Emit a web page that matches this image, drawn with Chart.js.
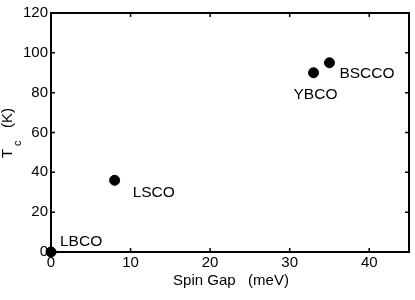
<!DOCTYPE html>
<html lang="en">
<head>
<meta charset="UTF-8">
<title>Tc vs Spin Gap</title>
<script src="https://cdn.jsdelivr.net/npm/chart.js@4.4.0/dist/chart.umd.min.js"></script>
<style>
    html, body { margin: 0; padding: 0; background: #fff; }
    #wrap { width: 415px; height: 300px; }
</style>
</head>
<body>
<div id="wrap"><canvas id="chart" width="415" height="300"></canvas></div>
<script>
// data
const materials = ['LBCO', 'LSCO', 'YBCO', 'BSCCO'];
const spinGap = [0, 8, 33, 35];       // meV
const tc = [0, 36, 90, 95];           // K
const xTicks = [0, 10, 20, 30, 40];
const yTicks = [0, 20, 40, 60, 80, 100, 120];

// label offsets (px) relative to each point
const labelOffsets = [[9, -10], [18, 12], [-20, 22], [10, 11]];

const FONT = '"Liberation Sans", Arial, Helvetica, sans-serif';

const framePlugin = {
    id: 'frame',
    afterDraw(chart) {
        const ctx = chart.ctx;
        const a = chart.chartArea;
        const xs = chart.scales.x, ys = chart.scales.y;
        ctx.save();
        ctx.strokeStyle = '#000';
        ctx.lineWidth = 2;
        ctx.strokeRect(a.left, a.top, a.right - a.left, a.bottom - a.top);

        // inward ticks on all four sides
        const tl = 4;
        ctx.lineWidth = 1.5;
        ctx.beginPath();
        xTicks.forEach(v => {
            const px = xs.getPixelForValue(v);
            ctx.moveTo(px, a.bottom); ctx.lineTo(px, a.bottom - tl);
            ctx.moveTo(px, a.top); ctx.lineTo(px, a.top + tl);
        });
        yTicks.forEach(v => {
            const py = ys.getPixelForValue(v);
            ctx.moveTo(a.left, py); ctx.lineTo(a.left + tl, py);
            ctx.moveTo(a.right, py); ctx.lineTo(a.right - tl, py);
        });
        ctx.stroke();

        // point labels
        ctx.fillStyle = '#000';
        ctx.font = '15.5px ' + FONT;
        ctx.textBaseline = 'middle';
        ctx.textAlign = 'left';
        materials.forEach((m, i) => {
            const px = xs.getPixelForValue(spinGap[i]);
            const py = ys.getPixelForValue(tc[i]);
            ctx.fillText(m, px + labelOffsets[i][0], py + labelOffsets[i][1]);
        });

        // x axis title
        ctx.textAlign = 'center';
        ctx.font = '15px ' + FONT;
        ctx.fillText('Spin Gap   (meV)', 231, 281);

        // y axis title with subscript
        ctx.translate(12, 158);
        ctx.rotate(-Math.PI / 2);
        ctx.textAlign = 'left';
        ctx.textBaseline = 'alphabetic';
        ctx.font = '15px ' + FONT;
        ctx.fillText('T', 0, 0);
        ctx.font = '11px ' + FONT;
        ctx.fillText('c', 12, 9);
        ctx.font = '15px ' + FONT;
        ctx.fillText('(K)', 30, 0);
        ctx.restore();
    }
};

new Chart(document.getElementById('chart'), {
    type: 'scatter',
    data: {
        datasets: [{
            data: spinGap.map((x, i) => ({ x: x, y: tc[i] })),
            backgroundColor: '#000',
            borderColor: '#000',
            pointRadius: 5,
            pointHoverRadius: 5,
            clip: false
        }]
    },
    options: {
        responsive: false,
        animation: false,
        layout: { padding: { left: 0, top: 13, right: 4, bottom: 0 } },
        plugins: { legend: { display: false }, tooltip: { enabled: false } },
        scales: {
            x: {
                type: 'linear',
                min: 0, max: 45,
                afterBuildTicks: s => { s.ticks = xTicks.map(v => ({ value: v })); },
                afterFit: s => { s.height = 48; },
                grid: { display: false, drawTicks: false },
                border: { display: false },
                ticks: { color: '#000', padding: 2, font: { family: FONT, size: 15 } }
            },
            y: {
                type: 'linear',
                min: 0, max: 120,
                afterBuildTicks: s => { s.ticks = yTicks.map(v => ({ value: v })); },
                afterFit: s => { s.width = 51; },
                grid: { display: false, drawTicks: false },
                border: { display: false },
                ticks: { color: '#000', padding: 3, font: { family: FONT, size: 15 } }
            }
        }
    },
    plugins: [framePlugin]
});
</script>
</body>
</html>
